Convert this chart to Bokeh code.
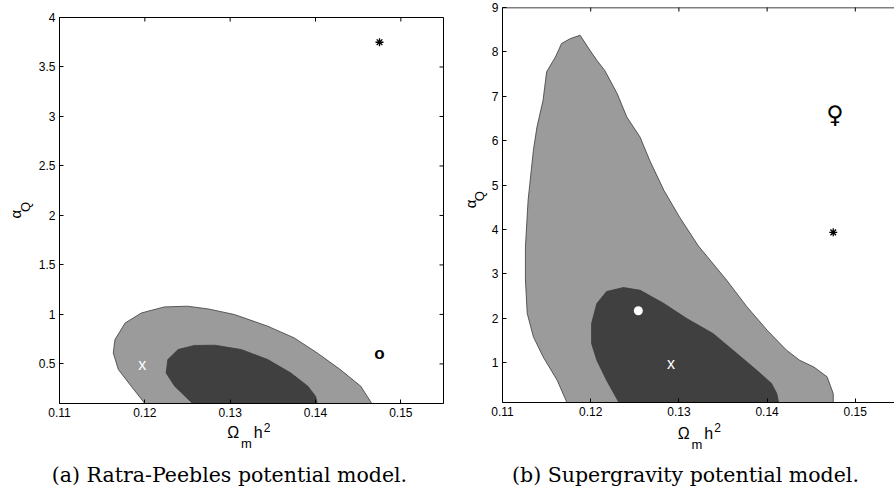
import numpy as np
from bokeh.plotting import figure
from bokeh.models import LinearAxis, FixedTicker, Range1d, Span
from bokeh.layouts import row, column
from bokeh.embed import file_html
from bokeh.resources import INLINE
from bokeh.core.properties import value

# ---------------- data: panel (a) Ratra-Peebles ----------------
a_outer_x = [0.1200, 0.1184, 0.1169, 0.1163, 0.1165, 0.1177, 0.1196, 0.1223, 0.1250,
             0.1274, 0.1305, 0.1344, 0.1375, 0.1402, 0.1429, 0.1453, 0.1466]
a_outer_y = [0.10, 0.275, 0.443, 0.611, 0.746, 0.914, 1.015, 1.076, 1.083,
             1.056, 0.999, 0.881, 0.763, 0.611, 0.443, 0.275, 0.10]
a_inner_x = [0.1256, 0.1235, 0.1225, 0.1227, 0.1239, 0.1258, 0.1282, 0.1313, 0.1344,
             0.1371, 0.1391, 0.1400, 0.1402]
a_inner_y = [0.10, 0.275, 0.409, 0.544, 0.645, 0.686, 0.689, 0.645, 0.544,
             0.409, 0.275, 0.174, 0.10]
a_star_x, a_star_y = [0.1475], [3.75]
a_o_x, a_o_y = [0.1475], [0.605]
a_cross_x, a_cross_y = [0.1197], [0.497]
a_xticks = [0.11, 0.12, 0.13, 0.14, 0.15]
a_xtick_labels = ["0.11", "0.12", "0.13", "0.14", "0.15"]
a_yticks = [0.5, 1, 1.5, 2, 2.5, 3, 3.5, 4]
a_ytick_labels = ["0.5", "1", "1.5", "2", "2.5", "3", "3.5", "4"]
a_caption = "(a) Ratra-Peebles potential model."

# ---------------- data: panel (b) Supergravity ----------------
b_outer_x = [0.1173, 0.1162, 0.1146, 0.1135, 0.1128, 0.1126, 0.1126, 0.1129, 0.1135,
             0.1139, 0.1146, 0.1150, 0.1160, 0.1167, 0.1177, 0.1188, 0.1199, 0.1207,
             0.1216, 0.1230, 0.1241, 0.1256, 0.1267, 0.1283, 0.1301, 0.1322, 0.1354,
             0.1377, 0.1400, 0.1422, 0.1437, 0.1453, 0.1468, 0.1475, 0.1475]
b_outer_y = [0.10, 0.60, 1.13, 1.58, 2.11, 2.86, 3.61, 4.65, 5.78,
             6.30, 6.91, 7.55, 7.885, 8.19, 8.30, 8.375, 8.04, 7.81,
             7.58, 7.06, 6.53, 6.08, 5.55, 4.88, 4.27, 3.63, 2.86,
             2.26, 1.73, 1.28, 1.05, 0.90, 0.68, 0.30, 0.10]
b_inner_x = [0.1232, 0.1218, 0.1207, 0.1201, 0.1201, 0.1207, 0.1218, 0.1237, 0.1256,
             0.1283, 0.1309, 0.1339, 0.1366, 0.1388, 0.1405, 0.1411, 0.1413]
b_inner_y = [0.10, 0.60, 1.05, 1.43, 1.88, 2.33, 2.60, 2.69, 2.63,
             2.33, 1.99, 1.65, 1.20, 0.83, 0.53, 0.30, 0.10]
b_dot_x, b_dot_y = [0.1254], [2.167]
b_cross_x, b_cross_y = [0.1291], [0.989]
b_venus_x, b_venus_y = [0.1477], [6.58]
b_star_x, b_star_y = [0.1475], [3.934]
b_xticks = [0.11, 0.12, 0.13, 0.14, 0.15]
b_xtick_labels = ["0.11", "0.12", "0.13", "0.14", "0.15"]
b_yticks = [1, 2, 3, 4, 5, 6, 7, 8, 9]
b_ytick_labels = ["1", "2", "3", "4", "5", "6", "7", "8", "9"]
b_caption = "(b) Supergravity potential model."

x_label_parts = ["\u03a9", "m", "h", "2"]
y_label_parts = ["\u03b1", "Q"]

LIGHT = "#9b9b9b"
DARK = "#404040"
EDGE = "#3a3a3a"
SANS = "Liberation Sans"
SERIF = "DejaVu Serif"
SHIFT = 5.5   # correction of the rendered alphabetic baseline, in px


def style_axis(ax, ticks, labels):
    ax.ticker = FixedTicker(ticks=ticks)
    ax.major_tick_in = 4
    ax.major_tick_out = 0
    ax.minor_tick_line_color = None
    ax.axis_line_color = "black"
    ax.axis_line_width = 1
    ax.major_tick_line_color = "black"
    ax.major_tick_line_width = 1
    ax.major_label_overrides = {t: l for t, l in zip(ticks, labels)}
    ax.major_label_text_font = SANS
    ax.major_label_text_font_size = "12px"
    ax.major_label_text_color = "black"
    ax.major_label_standoff = 4


def make_panel(W, H, ml, mr, mt, mb, xr, yr, xticks, xlabels, yticks, ylabels, full_box):
    p = figure(width=W, height=H, x_range=Range1d(*xr), y_range=Range1d(*yr),
               output_backend="svg", toolbar_location=None, tools="",
               min_border_left=ml, min_border_right=mr, min_border_top=mt,
               min_border_bottom=mb, x_axis_location=None, y_axis_location=None)
    p.grid.visible = False
    p.background_fill_color = "white"
    p.border_fill_color = "white"
    bx = LinearAxis(); style_axis(bx, xticks, xlabels); p.add_layout(bx, "below")
    ly = LinearAxis(); style_axis(ly, yticks, ylabels); p.add_layout(ly, "left")
    if full_box:
        p.outline_line_color = "black"
        p.outline_line_width = 1
        # inward ticks on the right edge (half of each dash is clipped by the frame)
        p.scatter([xr[1]] * len(yticks), yticks, marker="dash", size=8,
                  line_color="black", line_width=1)
    else:
        p.outline_line_color = None
        p.add_layout(Span(location=yr[1], dimension="width", line_color="black", line_width=1.5))
    # inward ticks on the top edge
    p.scatter(xticks, [yr[1]] * len(xticks), marker="dash", angle=np.pi / 2, size=8,
              line_color="black", line_width=1)
    return p


def text_fig(W, H):
    t = figure(width=W, height=H, x_range=Range1d(0, W), y_range=Range1d(0, H),
               output_backend="svg", toolbar_location=None, tools="",
               min_border=0, x_axis_location=None, y_axis_location=None)
    t.grid.visible = False
    t.outline_line_color = None
    t.background_fill_color = "white"
    t.border_fill_color = "white"
    return t


def put(t, x, y, s, size, font=SANS, align="left", angle=0.0):
    if angle == 0.0:
        y = y + SHIFT
    else:
        x = x - SHIFT
    t.text([x], [y], text=[s], text_font=value(font), text_font_size=size,
           text_align=align, text_baseline="alphabetic", text_color="black", angle=angle)


# ================= panel (a) =================
H1A = 421
pa = make_panel(412, H1A, 23, 4, 17, 18, (0.11, 0.155), (0.1, 4.0),
                a_xticks, a_xtick_labels, a_yticks, a_ytick_labels, True)
pa.patch(a_outer_x, a_outer_y, fill_color=LIGHT, line_color=EDGE, line_width=0.8)
pa.patch(a_inner_x, a_inner_y, fill_color=DARK, line_color=EDGE, line_width=0.8)
pa.scatter(a_star_x, a_star_y, marker="asterisk", size=8, line_color="black", line_width=1.3)
pa.text(a_o_x, a_o_y, text=["o"], text_font=value(SANS), text_font_style="bold",
        text_font_size="17px", text_align="center", text_baseline="middle", text_color="black")
pa.text(a_cross_x, a_cross_y, text=["x"], text_font=value(SANS),
        text_font_size="16px", text_align="center", text_baseline="middle", text_color="white")

ya = text_fig(35, H1A)
put(ya, 20.7, H1A - 219.3, y_label_parts[0], "15px", angle=np.pi / 2)
put(ya, 30.0, H1A - 212.0, y_label_parts[1], "13px", angle=np.pi / 2)

ca = text_fig(447, 492 - H1A)
put(ca, 226.7, 492 - 437.3, x_label_parts[0], "16px")
put(ca, 240.5, 492 - 448.3, x_label_parts[1], "13px")
put(ca, 253.3, 492 - 437.3, x_label_parts[2], "16px")
put(ca, 263.3, 492 - 432.3, x_label_parts[3], "12px")
put(ca, 229.0, 492 - 480.0, a_caption, "20.5px", font=SERIF, align="center")

# ================= panel (b) =================
H1B = 420
YBW = 41
pb = make_panel(447 - YBW, H1B, 14, 0, 7, 18, (0.11, 0.11 + 392 / 8820.0), (0.1, 9.0),
                b_xticks, b_xtick_labels, b_yticks, b_ytick_labels, False)
pb.patch(b_outer_x, b_outer_y, fill_color=LIGHT, line_color=EDGE, line_width=0.8)
pb.patch(b_inner_x, b_inner_y, fill_color=DARK, line_color=EDGE, line_width=0.8)
pb.scatter(b_dot_x, b_dot_y, marker="circle", size=9, fill_color="white", line_color=None)
pb.text(b_cross_x, b_cross_y, text=["x"], text_font=value(SANS),
        text_font_size="16px", text_align="center", text_baseline="middle", text_color="white")
pb.text(b_venus_x, b_venus_y, text=["\u2640"], text_font=value("DejaVu Sans"),
        text_font_size="24px", text_align="center", text_baseline="middle", text_color="black")
pb.scatter(b_star_x, b_star_y, marker="asterisk", size=8, line_color="black", line_width=1.3)

yb = text_fig(YBW, H1B)
put(yb, 28.0, H1B - 213.5, y_label_parts[0], "15px", angle=np.pi / 2)
put(yb, 37.0, H1B - 206.0, y_label_parts[1], "13px", angle=np.pi / 2)

cb = text_fig(447, 492 - H1B)
put(cb, 230.2, 492 - 438.0, x_label_parts[0], "16px")
put(cb, 244.0, 492 - 449.0, x_label_parts[1], "13px")
put(cb, 256.8, 492 - 438.0, x_label_parts[2], "16px")
put(cb, 266.8, 492 - 432.3, x_label_parts[3], "12px")
put(cb, 238.0, 492 - 480.0, b_caption, "20.5px", font=SERIF, align="center")

layout = row(column(row(ya, pa, spacing=0), ca, spacing=0),
             column(row(yb, pb, spacing=0), cb, spacing=0), spacing=0)
open("out.html", "w").write(file_html(layout, INLINE))
